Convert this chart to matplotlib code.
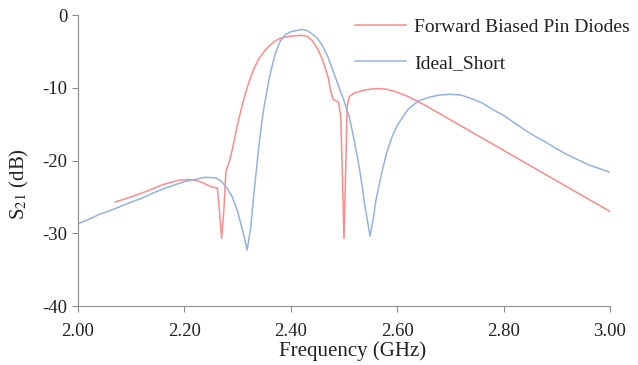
# S21 of the filter: forward biased pin diodes vs ideal short

import matplotlib.pyplot as plt

freq_pin = [2.07, 2.10, 2.13, 2.16, 2.19, 2.21, 2.23, 2.25, 2.262, 2.266, 2.270, 2.274,
            2.278, 2.285, 2.29, 2.30, 2.31, 2.32, 2.33, 2.34, 2.35, 2.36, 2.37, 2.38,
            2.40, 2.42, 2.43, 2.44, 2.45, 2.46, 2.47, 2.475, 2.48, 2.49, 2.494, 2.497,
            2.500, 2.503, 2.506, 2.51, 2.52, 2.54, 2.56, 2.58, 2.60, 2.62, 2.65, 2.70,
            2.75, 2.80, 2.85, 2.90, 2.95, 3.00]
s21_pin = [-25.7, -25.0, -24.2, -23.3, -22.7, -22.6, -22.9, -23.6, -23.8, -27.0, -30.7, -27.0,
           -21.5, -20.0, -18.5, -15.0, -12.0, -9.5, -7.5, -6.0, -5.0, -4.2, -3.6, -3.2,
           -2.9, -2.8, -2.9, -3.5, -4.6, -6.2, -8.5, -10.5, -11.6, -12.0, -14.0, -22.0,
           -30.7, -22.0, -12.5, -11.2, -10.7, -10.3, -10.1, -10.2, -10.6, -11.2, -12.3, -14.4,
           -16.5, -18.6, -20.7, -22.8, -24.9, -27.0]

freq_ideal = [2.00, 2.02, 2.04, 2.06, 2.08, 2.10, 2.12, 2.14, 2.16, 2.18, 2.20, 2.22, 2.24,
              2.26, 2.27, 2.28, 2.29, 2.30, 2.31, 2.318, 2.325, 2.33, 2.335, 2.34, 2.345,
              2.35, 2.36, 2.37, 2.38, 2.39, 2.40, 2.42, 2.43, 2.44, 2.45, 2.46, 2.47, 2.48,
              2.49, 2.50, 2.51, 2.52, 2.53, 2.54, 2.549, 2.555, 2.56, 2.57, 2.58, 2.59, 2.60,
              2.62, 2.64, 2.66, 2.68, 2.70, 2.72, 2.74, 2.76, 2.78, 2.80, 2.82, 2.84, 2.86,
              2.88, 2.90, 2.92, 2.94, 2.96, 2.98, 3.00]
s21_ideal = [-28.7, -28.1, -27.4, -26.9, -26.3, -25.7, -25.2, -24.5, -23.9, -23.4, -22.9, -22.6, -22.3,
             -22.4, -22.9, -23.8, -25.0, -27.0, -29.8, -32.3, -29.0, -25.0, -21.5, -18.0, -15.0,
             -12.5, -8.5, -5.5, -3.6, -2.7, -2.3, -2.0, -2.1, -2.6, -3.2, -4.3, -5.8, -7.8,
             -9.8, -11.8, -14.0, -17.5, -21.5, -26.5, -30.4, -28.0, -25.5, -22.0, -19.0, -16.8, -15.2,
             -13.0, -11.8, -11.3, -11.0, -10.9, -11.0, -11.5, -12.1, -13.0, -13.8, -14.8, -15.8, -16.7,
             -17.5, -18.4, -19.2, -19.9, -20.6, -21.1, -21.6]

x_ticks = [2.0, 2.2, 2.4, 2.6, 2.8, 3.0]
y_ticks = [0, -10, -20, -30, -40]

plt.rcParams['font.family'] = ['Liberation Serif', 'DejaVu Serif']
plt.rcParams['mathtext.fontset'] = 'stix'

fig = plt.figure(figsize=(6.38, 3.65), dpi=100)
ax = fig.add_axes([0.1223, 0.1616, 0.8337, 0.7973])

ax.plot(freq_pin, s21_pin, color='#ff8a8a', lw=1.1, label='Forward Biased Pin Diodes')
ax.plot(freq_ideal, s21_ideal, color='#94b3dd', lw=1.1, label='Ideal_Short')

ax.set_xlim(2.0, 3.0)
ax.set_ylim(-40, 0)
ax.set_xticks(x_ticks)
ax.set_xticklabels(['%.2f' % t for t in x_ticks])
ax.set_yticks(y_ticks)
ax.set_yticklabels([str(t) for t in y_ticks])

for side in ['top', 'right']:
    ax.spines[side].set_visible(False)
for side in ['left', 'bottom']:
    ax.spines[side].set_color('#8c8c8c')
ax.tick_params(direction='out', length=4, color='#8c8c8c', labelsize=13.5, labelcolor='#222222')
ax.tick_params(axis='x', pad=8)

ax.set_xlabel('Frequency (GHz)', fontsize=15, color='#222222')
ax.xaxis.set_label_coords(0.517, -0.122)
ax.set_ylabel('S$_{21}$ (dB)', fontsize=15, color='#222222')
ax.yaxis.set_label_coords(-0.088, 0.42)

leg = ax.legend(loc='upper left', bbox_to_anchor=(355 / 638, 1 - 18 / 365),
                bbox_transform=fig.transFigure, frameon=False, fontsize=14,
                borderpad=0, borderaxespad=0, handlelength=2.6, handletextpad=0.45,
                labelspacing=0.95)
for t in leg.get_texts():
    t.set_color('#222222')

fig.savefig('out.png', dpi=100)
